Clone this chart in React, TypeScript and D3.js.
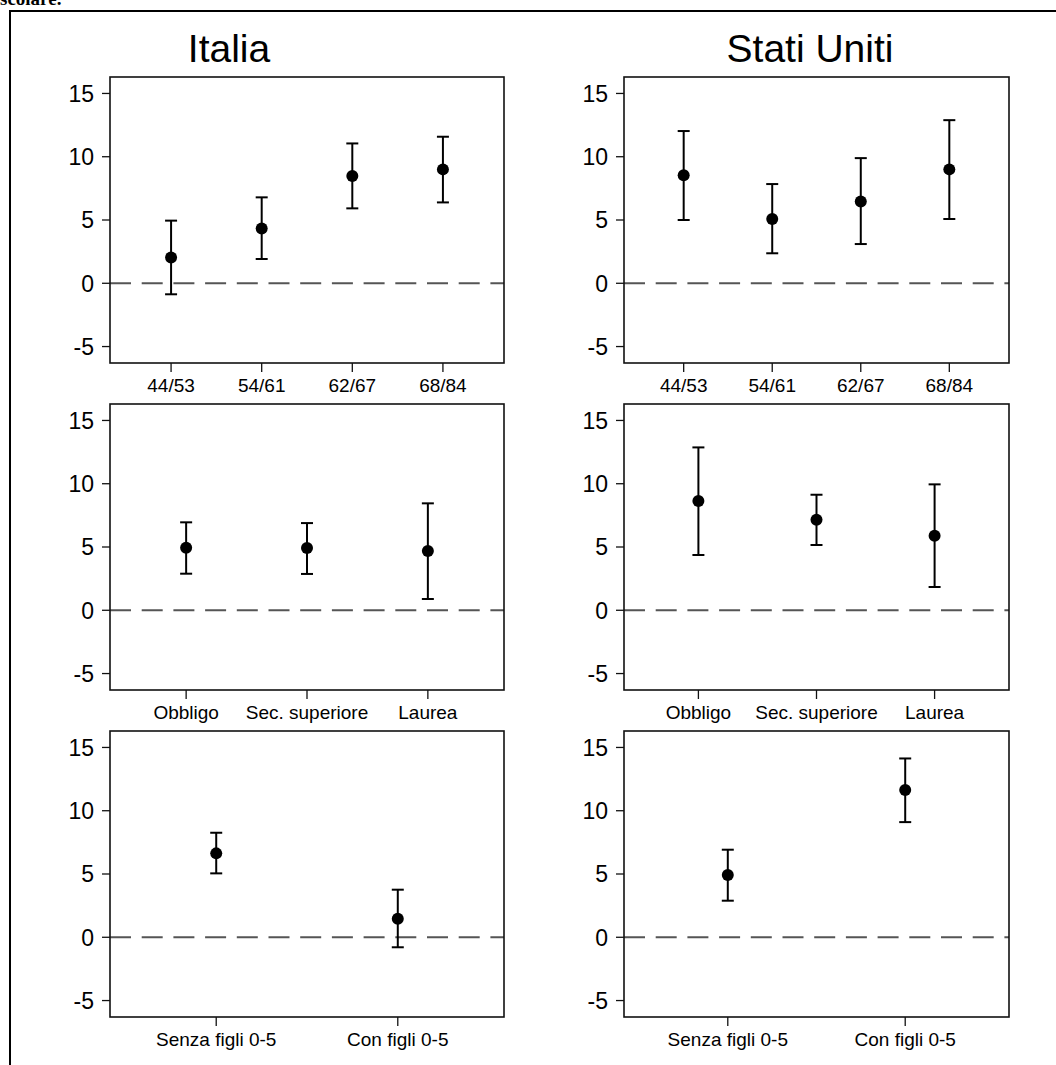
import React from "react";
import * as d3 from "d3";

// Category labels for each row of panels
const cohortLabels = ["44/53", "54/61", "62/67", "68/84"];
const eduLabels = ["Obbligo", "Sec. superiore", "Laurea"];
const childLabels = ["Senza figli 0-5", "Con figli 0-5"];
const yTicks = [-5, 0, 5, 10, 15];
const countryTitles = ["Italia", "Stati Uniti"];

// Italia: point estimates with lower / upper bounds
const itCohortEst = [2.03, 4.32, 8.47, 9.0];
const itCohortLo = [-0.87, 1.92, 5.92, 6.39];
const itCohortHi = [4.95, 6.79, 11.05, 11.58];

const itEduEst = [4.95, 4.92, 4.68];
const itEduLo = [2.89, 2.87, 0.89];
const itEduHi = [6.95, 6.89, 8.45];

const itChildEst = [6.63, 1.47];
const itChildLo = [5.05, -0.79];
const itChildHi = [8.26, 3.76];

// Stati Uniti
const usCohortEst = [8.53, 5.08, 6.47, 9.0];
const usCohortLo = [5.0, 2.37, 3.1, 5.08];
const usCohortHi = [12.03, 7.84, 9.89, 12.89];

const usEduEst = [8.63, 7.16, 5.89];
const usEduLo = [4.37, 5.16, 1.84];
const usEduHi = [12.87, 9.13, 9.95];

const usChildEst = [4.92, 11.63];
const usChildLo = [2.89, 9.1];
const usChildHi = [6.92, 14.13];

type PanelData = { labels: string[]; est: number[]; lo: number[]; hi: number[] };

const columns: PanelData[][] = [
  [
    { labels: cohortLabels, est: itCohortEst, lo: itCohortLo, hi: itCohortHi },
    { labels: eduLabels, est: itEduEst, lo: itEduLo, hi: itEduHi },
    { labels: childLabels, est: itChildEst, lo: itChildLo, hi: itChildHi },
  ],
  [
    { labels: cohortLabels, est: usCohortEst, lo: usCohortLo, hi: usCohortHi },
    { labels: eduLabels, est: usEduEst, lo: usEduLo, hi: usEduHi },
    { labels: childLabels, est: usChildEst, lo: usChildLo, hi: usChildHi },
  ],
];

const W = 1056;
const H = 1065;
const FONT = "'Liberation Sans', Arial, Helvetica, sans-serif";

const colX = [
  { left: 110, right: 504, title: 229 },
  { left: 624, right: 1009, title: 810 },
];
const rowTop = [77, 404, 731];
const plotH = 286;

// outer padding of the point scale, depending on number of categories
const paddingFor: Record<number, number> = { 4: 0.674, 3: 0.63, 2: 0.585 };

function Panel({ data, x0, x1, y0 }: { data: PanelData; x0: number; x1: number; y0: number }) {
  const x = d3
    .scalePoint<string>()
    .domain(data.labels)
    .range([x0, x1])
    .padding(paddingFor[data.labels.length]);
  const y = d3.scaleLinear().domain([-6.3, 16.3]).range([y0 + plotH, y0]);
  const capW = 6;
  return (
    <g>
      {/* zero reference line */}
      <line
        x1={x0}
        x2={x1}
        y1={y(0)}
        y2={y(0)}
        stroke="#555"
        strokeWidth={2}
        strokeDasharray="21 10.7"
      />
      {/* frame */}
      <rect x={x0} y={y0} width={x1 - x0} height={plotH} fill="none" stroke="#111" strokeWidth={1.6} />
      {/* y axis */}
      {yTicks.map((t) => (
        <g key={t}>
          <line x1={x0 - 8} x2={x0} y1={y(t)} y2={y(t)} stroke="#111" strokeWidth={1.3} />
          <text
            x={x0 - 16}
            y={y(t)}
            dy="0.36em"
            textAnchor="end"
            fontSize={23}
            fontFamily={FONT}
            fill="#000"
          >
            {t}
          </text>
        </g>
      ))}
      {/* x axis */}
      {data.labels.map((l) => (
        <g key={l}>
          <line x1={x(l)!} x2={x(l)!} y1={y0 + plotH} y2={y0 + plotH + 9} stroke="#111" strokeWidth={1.3} />
          <text
            x={x(l)!}
            y={y0 + plotH + 29}
            textAnchor="middle"
            fontSize={19}
            fontFamily={FONT}
            fill="#000"
          >
            {l}
          </text>
        </g>
      ))}
      {/* estimates with intervals */}
      {data.labels.map((l, i) => {
        const cx = x(l)!;
        return (
          <g key={"e" + l}>
            <line x1={cx} x2={cx} y1={y(data.lo[i])} y2={y(data.hi[i])} stroke="#000" strokeWidth={2} />
            <line x1={cx - capW} x2={cx + capW} y1={y(data.lo[i])} y2={y(data.lo[i])} stroke="#000" strokeWidth={2} />
            <line x1={cx - capW} x2={cx + capW} y1={y(data.hi[i])} y2={y(data.hi[i])} stroke="#000" strokeWidth={2} />
            <circle cx={cx} cy={y(data.est[i])} r={6} fill="#000" />
          </g>
        );
      })}
    </g>
  );
}

export default function App() {
  return (
    <svg
      width={W}
      height={H}
      viewBox={`0 0 ${W} ${H}`}
      style={{ position: "absolute", left: 0, top: 0, background: "#fff" }}
    >
      <rect x={0} y={0} width={W} height={H} fill="#fff" />
      <text
        x={0}
        y={5}
        fontSize={19}
        fontWeight="bold"
        fontFamily="'Liberation Serif', 'Times New Roman', serif"
        fill="#000"
      >
        scolare.
      </text>
      {/* outer border */}
      <path d={`M10,${H} L10,11 L${W},11`} fill="none" stroke="#000" strokeWidth={2} />
      {columns.map((col, ci) => (
        <g key={ci}>
          <text
            x={colX[ci].title}
            y={62}
            textAnchor="middle"
            fontSize={39}
            fontFamily={FONT}
            fill="#000"
          >
            {countryTitles[ci]}
          </text>
          {col.map((panel, ri) => (
            <Panel key={ri} data={panel} x0={colX[ci].left} x1={colX[ci].right} y0={rowTop[ri]} />
          ))}
        </g>
      ))}
    </svg>
  );
}
